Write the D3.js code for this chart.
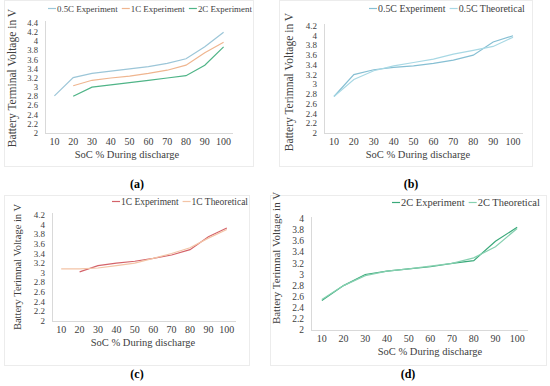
<!DOCTYPE html>
<html><head><meta charset="utf-8">
<script src="https://cdn.jsdelivr.net/npm/d3@7"></script>
<style>body{margin:0;background:#fff;} text{font-family:"Liberation Serif","Times New Roman","DejaVu Serif",serif;}</style>
</head><body>
<svg id="c" width="550" height="386"></svg>
<script>
const categories = [10,20,30,40,50,60,70,80,90,100];
// Panel (a)
const a_05C_exp = [2.81,3.21,3.3,3.35,3.4,3.45,3.52,3.62,3.88,4.2];
const a_1C_exp  = [null,3.03,3.15,3.2,3.24,3.3,3.37,3.48,3.75,3.98];
const a_2C_exp  = [null,2.8,3.0,3.05,3.1,3.15,3.2,3.25,3.48,3.88];
// Panel (b)
const b_05C_exp = [2.75,3.2,3.3,3.35,3.38,3.43,3.5,3.6,3.87,4.0];
const b_05C_the = [2.75,3.1,3.28,3.38,3.45,3.52,3.62,3.7,3.78,3.97];
// Panel (c)
const c_1C_exp = [null,3.02,3.15,3.2,3.24,3.3,3.37,3.48,3.75,3.93];
const c_1C_the = [3.08,3.08,3.1,3.15,3.2,3.3,3.4,3.52,3.72,3.9];
// Panel (d)
const d_2C_exp = [2.53,2.8,3.0,3.06,3.1,3.14,3.2,3.25,3.6,3.85];
const d_2C_the = [2.55,2.8,2.98,3.06,3.1,3.15,3.2,3.3,3.5,3.83];
const yTicksA = [2,2.2,2.4,2.6,2.8,3,3.2,3.4,3.6,3.8,4,4.2,4.4];
const yTicksB = [2,2.2,2.4,2.6,2.8,3,3.2,3.4,3.6,3.8,4,4.2];
const yTicksD = [2,2.2,2.4,2.6,2.8,3,3.2,3.4,3.6,3.8,4];
const xTitle = "SoC % During discharge";
const yTitleA = "Battery Terminal Voltage in V";
const yTitleB = "Battery Terimnal Voltage in V";

const FONT = "Liberation Serif, Times New Roman, DejaVu Serif, serif";
const svg = d3.select("#c");
const fmt = v => String(+v.toFixed(1));

function panel(cfg){
  const g = svg.append("g").attr("font-family",FONT);
  g.append("rect").attr("x",cfg.frame[0]+0.5).attr("y",cfg.frame[1]+0.5)
    .attr("width",cfg.frame[2]).attr("height",cfg.frame[3])
    .attr("fill","none").attr("stroke","#ececec");
  const x = d3.scaleBand().domain(categories).range([cfg.x0,cfg.x1]);
  const y = d3.scaleLinear().domain([2,cfg.ymax]).range([cfg.yb,cfg.yt]);
  g.append("line").attr("x1",cfg.x0+0.5).attr("x2",cfg.x0+0.5).attr("y1",cfg.yt-2).attr("y2",cfg.yb)
    .attr("stroke","#d9d9d9").attr("stroke-width",1);
  g.append("line").attr("x1",cfg.x0).attr("x2",cfg.x1).attr("y1",cfg.yb+0.5).attr("y2",cfg.yb+0.5)
    .attr("stroke","#d9d9d9").attr("stroke-width",1);
  g.selectAll(".yt").data(cfg.yticks).enter().append("text")
    .attr("x",cfg.x0-7).attr("y",d=>y(d)).attr("dy","0.33em").attr("font-family",FONT)
    .attr("text-anchor","end").attr("font-size",cfg.yfs).attr("fill","#404040").text(fmt);
  g.selectAll(".xt").data(categories).enter().append("text")
    .attr("x",d=>x(d)+x.bandwidth()/2).attr("y",cfg.yb+12).attr("font-family",FONT)
    .attr("text-anchor","middle").attr("font-size",10).attr("fill","#404040").text(d=>d);
  g.append("text").attr("x",cfg.xtx).attr("y",cfg.yb+25).attr("font-family",FONT)
    .attr("text-anchor","middle").attr("font-size",10.5).attr("fill","#404040").text(xTitle);
  g.append("text").attr("transform",`translate(${cfg.ylx},${cfg.ylc}) rotate(-90)`)
    .attr("font-family",FONT)
    .attr("text-anchor","middle").attr("font-size",cfg.ylfs).attr("fill","#404040").text(cfg.ytitle);
  const line = d3.line().defined(d=>d.v!=null)
    .x(d=>x(d.c)+x.bandwidth()/2).y(d=>y(d.v));
  cfg.series.forEach(s=>{
    g.append("path").datum(categories.map((c,i)=>({c,v:s.values[i]})))
      .attr("d",line).attr("fill","none").attr("stroke",s.color).attr("stroke-width",1.2);
  });
  // legend: fit into reference span
  const leg = g.append("g");
  const items = cfg.series.map(s=>{
    const ln = leg.append("line").attr("stroke",s.color).attr("stroke-width",1.2);
    const t = leg.append("text").attr("font-size",10).attr("font-family",FONT)
      .attr("fill","#404040").text(s.name);
    return {ln,t,w:t.node().getComputedTextLength()};
  });
  const natural = items.reduce((a,it)=>a+it.w,0);
  const fixed = items.length*9 + (items.length-1)*4;
  const fs = Math.min(11, 10*(cfg.legx1-cfg.legx-fixed)/natural);
  let lx = cfg.legx;
  items.forEach(it=>{
    it.ln.attr("x1",lx).attr("x2",lx+8).attr("y1",cfg.legy-3.5).attr("y2",cfg.legy-3.5);
    it.t.attr("font-size",fs).attr("x",lx+9).attr("y",cfg.legy);
    lx += 9 + it.w*fs/10 + 4;
  });
  svg.append("text").attr("x",cfg.lab[0]).attr("y",cfg.lab[1]).attr("text-anchor","middle")
    .attr("font-family",FONT)
    .attr("font-size",12).attr("font-weight","bold").attr("fill","#000").text(cfg.label);
}

panel({frame:[4,0,249,166], x0:45,x1:233,yt:23,yb:133,ymax:4.4,yticks:yTicksA,yfs:8.6,
  ylx:16,ylc:78,ylfs:11.5,ytitle:yTitleA,xtx:127,
  legx:48,legx1:252,legy:12,lab:[137,188],label:"(a)",
  series:[{name:"0.5C Experiment",values:a_05C_exp,color:"#9cc6d8"},
          {name:"1C Experiment",values:a_1C_exp,color:"#efb58f"},
          {name:"2C Experiment",values:a_2C_exp,color:"#4fb487"}]});
panel({frame:[279,0,253,166], x0:324,x1:523,yt:26,yb:133,ymax:4.2,yticks:yTicksB,yfs:9,
  ylx:293,ylc:82,ylfs:11.5,ytitle:yTitleB,xtx:418,
  legx:369,legx1:525,legy:12,lab:[411,188],label:"(b)",
  series:[{name:"0.5C Experiment",values:b_05C_exp,color:"#86bfd3"},
          {name:"0.5C Theoretical",values:b_05C_the,color:"#a8d8e4"}]});
panel({frame:[4,195,245,170], x0:52,x1:236,yt:215,yb:321,ymax:4.2,yticks:yTicksB,yfs:9,
  ylx:21,ylc:267,ylfs:10.5,ytitle:yTitleB,xtx:143,
  legx:112,legx1:248,legy:205,lab:[137,378],label:"(c)",
  series:[{name:"1C Experiment",values:c_1C_exp,color:"#d4636a"},
          {name:"1C Theoretical",values:c_1C_the,color:"#f3c4a6"}]});
panel({frame:[270,195,276,170], x0:311,x1:528,yt:219,yb:330,ymax:4,yticks:yTicksD,yfs:9.5,
  ylx:280,ylc:258,ylfs:11,ytitle:yTitleB,xtx:430,
  legx:392,legx1:540,legy:206,lab:[408,378],label:"(d)",
  series:[{name:"2C Experiment",values:d_2C_exp,color:"#3aa97a"},
          {name:"2C Theoretical",values:d_2C_the,color:"#86d0b0"}]});
</script>
</body></html>
